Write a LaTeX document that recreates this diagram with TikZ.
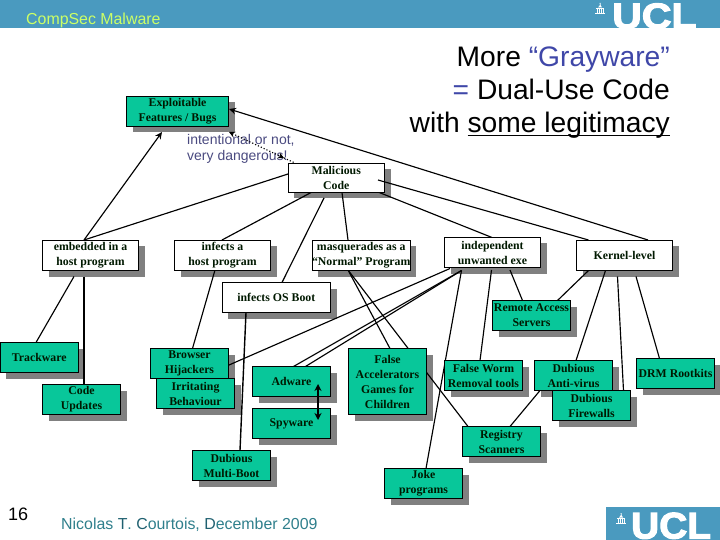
\documentclass[tikz,border=0pt]{standalone}
\usepackage{fontspec}
\setmainfont{Liberation Serif}
\setsansfont{Liberation Sans}
\newfontfamily\uclfont[FakeBold=3]{Liberation Sans Bold}
\usetikzlibrary{calc,arrows.meta}
\pgfdeclarelayer{shadows}
\pgfdeclarelayer{lines}
\pgfsetlayers{shadows,lines,main}
\definecolor{teal1}{HTML}{08C79A}
\definecolor{barblue}{HTML}{4A9ABF}
\definecolor{shadowgray}{HTML}{808080}
\definecolor{head}{HTML}{CCFF66}
\definecolor{anno}{HTML}{4A4A80}
\definecolor{foot}{HTML}{2F7F8C}
\definecolor{footd}{HTML}{1F6070}
\definecolor{gray1}{HTML}{3F47A8}
\newcommand\ulx[1]{\setbox0\hbox{#1}\rlap{\rule[-3.4bp]{\wd0}{1.8bp}}\box0}
\newcommand\bx[7]{%
  \node[boxn,fill=#6,minimum width=#4bp,minimum height=#5bp] (#1) at (#2,#3) {#7};
  \begin{pgfonlayer}{shadows}
    \fill[shadowgray] ($(#1.north west)+(6,6)$) rectangle ($(#1.south east)+(6,6)$);
  \end{pgfonlayer}}
\newcommand\bldg[2]{%
  \begin{scope}[shift={(#1,#2)}]
    \fill[white] (4.5,0) -- (5.5,0) -- (5.5,2) -- (7,4.5) -- (3,4.5) -- (5,2) -- cycle;
    \fill[white] (1,4.8) rectangle (9,6);
    \foreach \cx in {1.5,3.5,5.5,7.5} \fill[white] (\cx,6) rectangle ++(1,3.6);
    \fill[white] (0,9.8) rectangle (10,11);
  \end{scope}}
\tikzset{
  boxn/.style={draw=black,line width=0.9bp,anchor=north west,inner sep=0pt,outer sep=0pt,align=center,
    text=black!90!green,font=\fontsize{11.8bp}{15bp}\selectfont\bfseries},
  ln/.style={line width=1.15bp,draw=black},
  tip/.style={-{Stealth[length=7bp,width=6.5bp]}},
  ttl/.style={anchor=base east,inner sep=0pt,font=\sffamily\fontsize{28.2bp}{33bp}\selectfont},
  ann/.style={anchor=base west,inner sep=0pt,text=anno,font=\sffamily\fontsize{14bp}{16bp}\selectfont},
  logo/.style={anchor=base west,inner sep=0pt,text=white}
}
\begin{document}
\begin{tikzpicture}[x=1bp,y=-1bp]
\path[use as bounding box] (0,0) rectangle (720,540);
% bars and logos
\fill[barblue] (0,0) rectangle (720,28.5);
\fill[barblue] (606,507) rectangle (720,540);
\node[logo] (ucltop) at (612,28.5) {\uclfont\fontsize{36bp}{36bp}\selectfont\scalebox{1.14}[1]{UCL}};
\node[logo] (uclbot) at (631,538.5) {\uclfont\fontsize{37bp}{37bp}\selectfont\scalebox{1.05}[1]{UCL}};
\bldg{595}{3}
\bldg{616}{513}
\node[anchor=base west,inner sep=0pt,text=head,font=\sffamily\fontsize{15.9bp}{18bp}\selectfont] (hdr) at (26,24.5) {CompSec Malware};
% title
\node[ttl] (t1) at (670,67) {More \textcolor{gray1}{“Grayware”}};
\node[ttl] (t2) at (670,100) {\textcolor{gray1}{=} Dual-Use Code};
\node[ttl] (t3) at (670,133) {with \ulx{some legitimacy}};
\node[ann] (a1) at (187,145) {intentional or not,};
\node[ann] (a2) at (187,161) {very dangerous!};
% footer
\node[anchor=base west,inner sep=0pt,font=\sffamily\fontsize{18bp}{20bp}\selectfont] (pg) at (8,520.7) {16};
\node[anchor=base west,inner sep=0pt,text=foot,font=\sffamily\fontsize{15.9bp}{18bp}\selectfont] (au) at (61,529) {Nicolas \textcolor{footd}{T}. \textcolor{footd}{C}ourtois, \textcolor{footd}{D}ecember 2009};
% boxes
\bx{exp}{126.5}{96}{102}{30.5}{teal1}{Exploitable\\Features / Bugs}
\bx{mal}{288}{163}{96.5}{29.5}{white}{Malicious\\Code}
\bx{emb}{42.5}{240}{96}{30.5}{white}{embedded in a\\host program}
\bx{inf}{174.5}{240}{96}{30.5}{white}{infects a\\host program}
\bx{mas}{312}{240}{96.5}{30.5}{white}{masquerades as a\\“Normal” Program}
\bx{ind}{444.5}{237.5}{96}{30}{white}{independent\\unwanted exe}
\bx{ker}{576.5}{240}{96}{30.5}{white}{Kernel-level}
\bx{os}{222}{282.5}{108.5}{30}{white}{infects OS Boot}
\bx{rem}{492.5}{300.5}{78}{30}{teal1}{Remote Access\\Servers}
\bx{trk}{0}{342.5}{78.5}{30}{teal1}{Trackware}
\bx{upd}{42.5}{384.5}{78}{30}{teal1}{Code\\Updates}
\bx{brw}{150.5}{348.5}{78}{30}{teal1}{Browser\\Hijackers}
\bx{irr}{156.5}{378.5}{78}{30}{teal1}{Irritating\\Behaviour}
\bx{adw}{252.5}{366.5}{78}{30}{teal1}{Adware}
\bx{spy}{252.5}{408.5}{78}{30}{teal1}{Spyware}
\bx{dub}{192.5}{450.5}{78}{30}{teal1}{Dubious\\Multi-Boot}
\bx{acc}{348.5}{348.5}{78}{66}{teal1}{False\\Accelerators\\Games for\\Children}
\bx{wrm}{444.5}{360.5}{78}{30}{teal1}{False Worm\\Removal tools}
\bx{av}{534.5}{360.5}{78}{30}{teal1}{Dubious\\Anti-virus}
\bx{fw}{552.5}{390.5}{78}{30}{teal1}{Dubious\\Firewalls}
\bx{drm}{636.5}{358.5}{78}{30}{teal1}{DRM Rootkits}
\bx{reg}{462.5}{426.5}{78}{30}{teal1}{Registry\\Scanners}
\bx{jok}{384.5}{468.5}{78}{30}{teal1}{Joke\\programs}
% connectors
\begin{pgfonlayer}{lines}
\draw[ln,tip] ($(ker.north west)+(71.5,0)$) -- ($(exp.north west)+(102.5,13)$);
\draw[ln,tip] ($(emb.north west)+(41.5,0)$) -- ($(exp.north west)+(35.5,36)$);
\draw[ln] ($(mal.north west)+(0,11)$) -- ($(emb.north west)+(41.5,0)$);
\draw[ln] ($(mal.north west)+(24,29)$) -- ($(inf.north west)+(47.5,0)$);
\draw[ln] ($(mal.north west)+(36,35)$) -- ($(os.north west)+(60,0)$);
\draw[ln] ($(mal.north west)+(54,29.5)$) -- ($(mas.north west)+(36,0)$);
\draw[ln] ($(mal.north west)+(90,29)$) -- ($(ind.north west)+(47.5,0)$);
\draw[ln] ($(emb.north west)+(31.5,36.5)$) -- ($(trk.north west)+(36,0)$);
\draw[ln] ($(emb.north west)+(41.5,36.5)$) -- ($(upd.north west)+(41.5,0)$);
\draw[ln] ($(inf.north west)+(40.5,30)$) -- ($(brw.north west)+(42,0)$);
\draw[ln,line width=1.4bp] ($(os.north west)+(24,30)$) -- ($(dub.north west)+(47.5,0)$);
\draw[ln] ($(mas.north west)+(36,30)$) -- ($(acc.north west)+(41.5,0)$);
\draw[ln] ($(mas.north west)+(36,30)$) -- ($(reg.north west)+(5.5,0)$);
\draw[ln] ($(ind.north west)+(5.5,31)$) -- ($(brw.north west)+(78.5,16.5)$);
\draw[ln] ($(ind.north west)+(17,33)$) -- ($(adw.north west)+(41,0)$);
\draw[ln] ($(ind.north west)+(17,33)$) -- ($(adw.north west)+(53,0)$);
\draw[ln] ($(ind.north west)+(17,33)$) -- ($(jok.north west)+(41.5,0)$);
\draw[ln] ($(ind.north west)+(47,32.5)$) -- ($(wrm.north west)+(35.5,0)$);
\draw[ln] ($(ind.north west)+(65.5,32.5)$) -- ($(rem.north west)+(30,0)$);
\draw[ln] ($(ker.north west)+(12,30.5)$) -- ($(rem.north west)+(65,0)$);
\draw[ln] ($(ker.north west)+(29,30.5)$) -- ($(av.north west)+(41.5,0)$);
\draw[ln] ($(ker.north west)+(41,36.5)$) -- ($(fw.north west)+(71,0)$);
\draw[ln] ($(ker.north west)+(59.5,36.5)$) -- ($(drm.north west)+(23,0)$);
\draw[ln] ($(av.north west)+(5.5,30)$) -- ($(reg.north west)+(47.5,0)$);
\end{pgfonlayer}
% connectors lying over the boxes
\draw[ln] ($(mal.north west)+(90,17)$) -- ($(ker.north west)+(12,0)$);
\draw[ln,dotted,{Stealth[length=6bp,width=6bp]}-{Stealth[length=6bp,width=6bp]}] ($(exp.north west)+(102.5,36)$) -- ($(mal.north west)+(-4,-5)$);
\draw[ln,dotted] ($(mal.north west)+(-4,-5)$) -- ($(mal.north west)+(7,0)$);
\draw[line width=1.6bp,{Stealth[length=7bp,width=7bp]}-{Stealth[length=7bp,width=7bp]}] ($(adw.north west)+(65.5,17.5)$) -- ($(spy.north west)+(65.5,11.5)$);
\end{tikzpicture}
\end{document}
